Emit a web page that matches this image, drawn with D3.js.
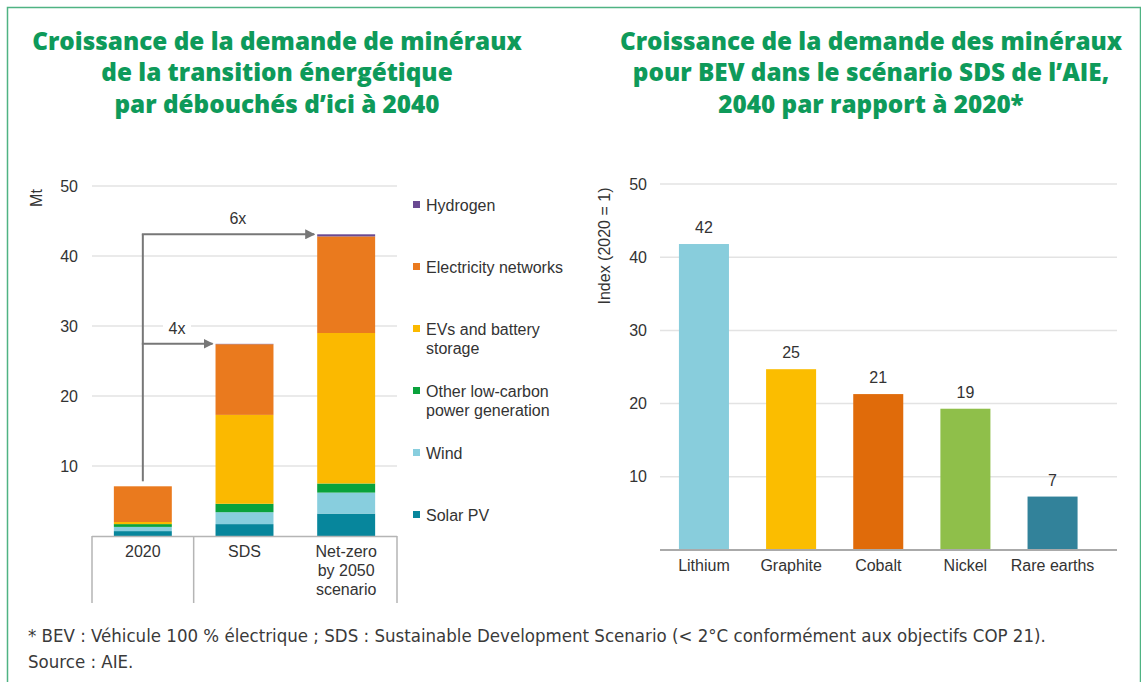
<!DOCTYPE html>
<html>
<head>
<meta charset="utf-8">
<script src="https://cdn.jsdelivr.net/npm/d3@7"></script>
<style>
  body { margin: 0; background: #fff; }
  svg { display: block; }
  .title { font-family: "Open Sans", sans-serif; font-weight: 800; font-size: 24.3px; fill: #0e9a5a; }
  .lbl { font-family: "Liberation Sans", Arial, sans-serif; font-size: 16px; fill: #333; }
  .note { font-family: "DejaVu Sans Condensed", sans-serif; font-size: 18.5px; fill: #3a3a3a; }
</style>
</head>
<body>
<div id="chart"></div>
<script>
// left chart: mineral demand by end use (Mt)
const scenarios = ['2020', 'SDS', 'Net-zero'];
const scenarioLabels = [['2020'], ['SDS'], ['Net-zero', 'by 2050', 'scenario']];
const uses = ['Solar PV', 'Wind', 'Other low-carbon power generation', 'EVs and battery storage', 'Electricity networks', 'Hydrogen'];
const solarPV = [0.7, 1.7, 3.2];
const wind = [0.6, 1.7, 3.0];
const otherLowCarbon = [0.4, 1.2, 1.3];
const evBattery = [0.3, 12.7, 21.5];
const electricityNetworks = [5.1, 10.1, 13.8];
const hydrogen = [0.0, 0.05, 0.3];
const leftTicks = [10, 20, 30, 40, 50];
const multipliers = [{ label: '4x', to: 'SDS' }, { label: '6x', to: 'Net-zero' }];

// right chart: BEV mineral demand index, 2040 vs 2020
const minerals = ['Lithium', 'Graphite', 'Cobalt', 'Nickel', 'Rare earths'];
const indexValues = [41.8, 24.7, 21.3, 19.3, 7.3];
const rightTicks = [10, 20, 30, 40, 50];

const useColors = ['#07869c', '#88cede', '#0aa23c', '#fbb900', '#ea7a1e', '#6a4a92'];
const mineralColors = ['#88cddc', '#fbbd00', '#e06b0a', '#8fbf4a', '#32829a'];
const legendRows = [
  { key: 'Hydrogen', lines: ['Hydrogen'], y: 205 },
  { key: 'Electricity networks', lines: ['Electricity networks'], y: 267 },
  { key: 'EVs and battery storage', lines: ['EVs and battery', 'storage'], y: 329 },
  { key: 'Other low-carbon power generation', lines: ['Other low-carbon', 'power generation'], y: 391 },
  { key: 'Wind', lines: ['Wind'], y: 453 },
  { key: 'Solar PV', lines: ['Solar PV'], y: 515 }
];

const W = 1141, H = 682;
const svg = d3.select('#chart').append('svg').attr('width', W).attr('height', H);

// frame
svg.append('rect')
  .attr('x', 7.5).attr('y', 7.5).attr('width', W - 8).attr('height', H)
  .attr('fill', 'none').attr('stroke', '#4fb383').attr('stroke-width', 1.5);

// titles
const titles = [
  { x: 277, lines: ['Croissance de la demande de minéraux', 'de la transition énergétique', 'par débouchés d\u2019ici à 2040'] },
  { x: 871, lines: ['Croissance de la demande des minéraux', 'pour BEV dans le scénario SDS de l\u2019AIE,', '2040 par rapport à 2020*'] }
];
titles.forEach((t) => {
  svg.append('text').attr('class', 'title').attr('text-anchor', 'middle')
    .selectAll('tspan').data(t.lines).enter().append('tspan')
    .attr('x', t.x).attr('y', (d, i) => 49.5 + i * 31.5).text((d) => d);
});

// ---------- left stacked chart ----------
const yL = d3.scaleLinear().domain([0, 50]).range([536, 186]);
const xL = d3.scaleBand().domain(scenarios).range([92, 397]).paddingInner(0.43).paddingOuter(0.215);

svg.append('g').selectAll('line').data(leftTicks).enter().append('line')
  .attr('x1', 92).attr('x2', 397)
  .attr('y1', (d) => yL(d)).attr('y2', (d) => yL(d))
  .attr('stroke', '#e3e3e3').attr('stroke-width', 1.5);

svg.append('g').selectAll('text').data(leftTicks).enter().append('text')
  .attr('class', 'lbl').attr('text-anchor', 'end')
  .attr('x', 78).attr('y', (d) => yL(d) + 5.5).text((d) => d);

svg.append('text').attr('class', 'lbl')
  .attr('transform', 'translate(42,198) rotate(-90)')
  .attr('text-anchor', 'middle').text('Mt');

const table = scenarios.map((s, i) => ({
  scenario: s,
  'Solar PV': solarPV[i],
  'Wind': wind[i],
  'Other low-carbon power generation': otherLowCarbon[i],
  'EVs and battery storage': evBattery[i],
  'Electricity networks': electricityNetworks[i],
  'Hydrogen': hydrogen[i]
}));
const stacked = d3.stack().keys(uses)(table);
const color = d3.scaleOrdinal().domain(uses).range(useColors);

svg.append('g').selectAll('g').data(stacked).enter().append('g')
  .attr('fill', (d) => color(d.key))
  .selectAll('rect').data((d) => d).enter().append('rect')
  .attr('x', (d) => xL(d.data.scenario))
  .attr('width', xL.bandwidth())
  .attr('y', (d) => yL(d[1]))
  .attr('height', (d) => Math.max(0, yL(d[0]) - yL(d[1])));

// category box under the bars
const boxEdges = [92, (xL('2020') + xL.bandwidth() + xL('SDS')) / 2, 397];
svg.append('line').attr('x1', 92).attr('x2', 397).attr('y1', 536.5).attr('y2', 536.5)
  .attr('stroke', '#b5b5b5').attr('stroke-width', 1.5);
svg.append('g').selectAll('line').data(boxEdges).enter().append('line')
  .attr('x1', (d) => d).attr('x2', (d) => d).attr('y1', 536).attr('y2', 603)
  .attr('stroke', '#b5b5b5').attr('stroke-width', 1.5);

svg.append('g').selectAll('text').data(scenarios).enter().append('text')
  .attr('class', 'lbl').attr('text-anchor', 'middle')
  .each(function (d, i) {
    d3.select(this).selectAll('tspan').data(scenarioLabels[i]).enter().append('tspan')
      .attr('x', xL(d) + xL.bandwidth() / 2)
      .attr('y', (t, j) => 556.5 + j * 19).text((t) => t);
  });

// multiplier arrows
const defs = svg.append('defs');
defs.append('marker').attr('id', 'arr').attr('viewBox', '0 0 10 10')
  .attr('refX', 9).attr('refY', 5).attr('markerWidth', 5).attr('markerHeight', 5)
  .attr('orient', 'auto')
  .append('path').attr('d', 'M0,0L10,5L0,10z').attr('fill', '#777');

const totals = table.map((d) => d3.sum(uses, (k) => d[k]));
const x0 = xL('2020') + xL.bandwidth() / 2;
const topTotal = d3.max(totals);
svg.append('line').attr('x1', x0).attr('x2', x0)
  .attr('y1', yL(totals[0]) - 5).attr('y2', yL(topTotal))
  .attr('stroke', '#777').attr('stroke-width', 2);
multipliers.forEach((m) => {
  const yy = yL(totals[scenarios.indexOf(m.to)]);
  const x2 = xL(m.to) - 3;
  const lx = m.label === '6x' ? x0 + (x2 - x0) * 0.555 : x0 + (x2 - x0) * 0.49;
  svg.append('rect').attr('x', lx - 14).attr('y', yy - 26)
    .attr('width', 28).attr('height', 20).attr('fill', '#fff');
  svg.append('text').attr('class', 'lbl').attr('text-anchor', 'middle')
    .attr('x', lx).attr('y', yy - 10).text(m.label);
  svg.append('line').attr('x1', x0 - 1).attr('x2', x2)
    .attr('y1', yy).attr('y2', yy)
    .attr('stroke', '#777').attr('stroke-width', 2).attr('marker-end', 'url(#arr)');
});

// legend
const lg = svg.append('g').selectAll('g').data(legendRows).enter().append('g')
  .attr('transform', (d) => `translate(413,${d.y})`);
lg.append('rect').attr('x', 0).attr('y', -4).attr('width', 7).attr('height', 7)
  .attr('fill', (d) => color(d.key));
lg.append('text').attr('class', 'lbl')
  .each(function (d) {
    d3.select(this).selectAll('tspan').data(d.lines).enter().append('tspan')
      .attr('x', 13).attr('y', (t, j) => 5.5 + j * 19).text((t) => t);
  });

// ---------- right bar chart ----------
const yR = d3.scaleLinear().domain([0, 50]).range([550, 184]);
const xR = d3.scaleBand().domain(minerals).range([661.5, 1095]).paddingInner(0.426).paddingOuter(0.2);

svg.append('g').selectAll('line').data(rightTicks).enter().append('line')
  .attr('x1', 660).attr('x2', 1117)
  .attr('y1', (d) => yR(d)).attr('y2', (d) => yR(d))
  .attr('stroke', '#e3e3e3').attr('stroke-width', 1.5);

svg.append('g').selectAll('text').data(rightTicks).enter().append('text')
  .attr('class', 'lbl').attr('text-anchor', 'end')
  .attr('x', 647).attr('y', (d) => yR(d) + 5.5).text((d) => d);

svg.append('text').attr('class', 'lbl')
  .attr('transform', 'translate(610,246) rotate(-90)')
  .attr('text-anchor', 'middle').text('Index (2020 = 1)');

svg.append('g').selectAll('rect').data(minerals).enter().append('rect')
  .attr('x', (d) => xR(d)).attr('width', xR.bandwidth())
  .attr('y', (d, i) => yR(indexValues[i]))
  .attr('height', (d, i) => yR(0) - yR(indexValues[i]))
  .attr('fill', (d, i) => mineralColors[i]);

svg.append('g').selectAll('text').data(minerals).enter().append('text')
  .attr('class', 'lbl').attr('text-anchor', 'middle')
  .attr('x', (d) => xR(d) + xR.bandwidth() / 2)
  .attr('y', (d, i) => yR(indexValues[i]) - 11)
  .text((d, i) => d3.format('.0f')(indexValues[i]));

svg.append('line').attr('x1', 660).attr('x2', 1117).attr('y1', 550).attr('y2', 550)
  .attr('stroke', '#aaa').attr('stroke-width', 2);

svg.append('g').selectAll('text').data(minerals).enter().append('text')
  .attr('class', 'lbl').attr('text-anchor', 'middle')
  .attr('x', (d) => xR(d) + xR.bandwidth() / 2).attr('y', 571).text((d) => d);

// footnote
const notes = [
  '* BEV : Véhicule 100 % électrique ; SDS : Sustainable Development Scenario (< 2°C conformément aux objectifs COP 21).',
  'Source : AIE.'
];
svg.append('g').selectAll('text').data(notes).enter().append('text')
  .attr('class', 'note').attr('x', 28).attr('y', (d, i) => 641.5 + i * 26.5).text((d) => d);
</script>
</body>
</html>
